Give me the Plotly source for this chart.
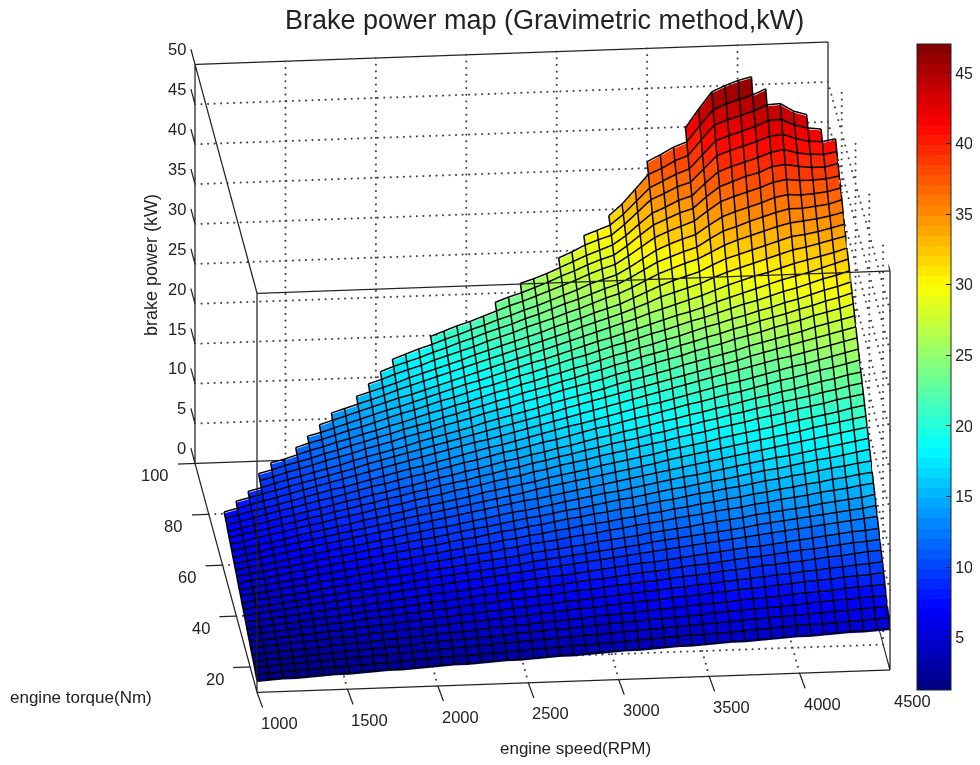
import plotly.graph_objects as go

speed_rpm = [1000, 1073, 1146, 1219, 1292, 1365, 1438, 1510, 1583, 1656, 1729, 1802, 1875, 1948, 2021, 2094, 2167,
             2240, 2313, 2385, 2458, 2531, 2604, 2677, 2750, 2823, 2896, 2969, 3042, 3115, 3188, 3260, 3333, 3406,
             3479, 3552, 3625, 3698, 3771, 3844, 3917, 3990, 4063, 4135, 4208, 4281, 4354, 4427, 4500]
torque_nm = [10.0, 11.8, 13.7, 15.5, 17.3, 19.2, 21.0, 22.9, 24.7, 26.5, 28.4, 30.2, 32.0, 33.9, 35.7, 37.6, 39.4, 41.2,
             43.1, 44.9, 46.7, 48.6, 50.4, 52.2, 54.1, 55.9, 57.8, 59.6, 61.4, 63.3, 65.1, 66.9, 68.8, 70.6, 72.4, 74.3,
             76.1, 78.0, 79.8, 81.6, 83.5, 85.3, 87.1, 89.0, 90.8, 92.6, 94.5, 96.3]
# index of the first speed column that has a value, one per torque row
first_col = [0] * 27 + [1, 2, 3, 3, 4, 6, 7, 8, 9, 11, 12, 13, 14, 17, 22, 24, 27, 29, 31, 34, 37]
power_rows = [
 [1.3,1.4,1.5,1.5,1.6,1.7,1.8,1.8,1.9,2.0,2.1,2.1,2.2,2.3,2.4,2.5,2.5,2.6,2.7,2.8,2.8,2.9,3.0,3.1,3.1,3.2,3.3,3.4,3.5,3.5,3.6,3.7,3.8,3.8,3.9,4.0,4.1,4.1,4.2,4.3,4.4,4.5,4.5,4.6,4.7,4.8,4.8,4.9,5.0],
 [1.5,1.6,1.7,1.8,1.9,2.0,2.1,2.1,2.2,2.3,2.4,2.5,2.6,2.7,2.8,2.9,2.9,3.0,3.1,3.2,3.3,3.4,3.5,3.6,3.7,3.7,3.8,3.9,4.0,4.1,4.2,4.3,4.4,4.5,4.5,4.6,4.7,4.8,4.9,5.0,5.1,5.2,5.3,5.3,5.4,5.5,5.6,5.7,5.8],
 [1.8,1.9,2.0,2.1,2.2,2.3,2.4,2.5,2.6,2.7,2.8,2.9,3.0,3.1,3.2,3.3,3.4,3.5,3.6,3.7,3.8,3.9,4.0,4.1,4.2,4.3,4.4,4.5,4.6,4.7,4.8,4.9,5.0,5.1,5.2,5.3,5.4,5.5,5.6,5.7,5.8,5.9,6.0,6.1,6.2,6.3,6.4,6.5,6.6],
 [2.0,2.1,2.2,2.3,2.4,2.5,2.7,2.8,2.9,3.0,3.1,3.2,3.3,3.5,3.6,3.7,3.8,3.9,4.0,4.1,4.3,4.4,4.5,4.6,4.7,4.8,5.0,5.1,5.2,5.3,5.4,5.5,5.6,5.7,5.8,6.0,6.1,6.2,6.3,6.4,6.5,6.6,6.8,6.9,7.0,7.1,7.2,7.3,7.4],
 [2.2,2.3,2.5,2.6,2.7,2.8,3.0,3.1,3.2,3.3,3.5,3.6,3.7,3.8,4.0,4.1,4.2,4.3,4.5,4.6,4.7,4.8,5.0,5.1,5.2,5.3,5.5,5.6,5.7,5.8,6.0,6.1,6.2,6.4,6.5,6.6,6.7,6.9,7.0,7.1,7.2,7.4,7.5,7.6,7.7,7.9,8.0,8.1,8.2],
 [2.4,2.6,2.7,2.9,3.0,3.1,3.3,3.4,3.5,3.7,3.8,4.0,4.1,4.2,4.4,4.5,4.7,4.8,4.9,5.1,5.2,5.3,5.5,5.6,5.8,5.9,6.0,6.2,6.3,6.5,6.6,6.7,6.9,7.0,7.1,7.3,7.4,7.6,7.7,7.8,8.0,8.1,8.3,8.4,8.5,8.7,8.8,8.9,9.1],
 [2.7,2.8,3.0,3.1,3.3,3.4,3.6,3.7,3.9,4.0,4.2,4.3,4.5,4.6,4.8,4.9,5.1,5.2,5.4,5.5,5.7,5.8,6.0,6.1,6.3,6.4,6.6,6.7,6.9,7.0,7.2,7.3,7.5,7.6,7.8,7.9,8.1,8.2,8.4,8.5,8.7,8.8,9.0,9.1,9.3,9.4,9.6,9.7,9.9],
 [2.9,3.1,3.2,3.4,3.6,3.7,3.9,4.0,4.2,4.4,4.5,4.7,4.9,5.0,5.2,5.3,5.5,5.7,5.8,6.0,6.2,6.3,6.5,6.6,6.8,7.0,7.1,7.3,7.5,7.6,7.8,7.9,8.1,8.3,8.4,8.6,8.8,8.9,9.1,9.3,9.4,9.6,9.7,9.9,10.1,10.2,10.4,10.6,10.7],
 [3.1,3.3,3.5,3.6,3.8,4.0,4.2,4.3,4.5,4.7,4.9,5.0,5.2,5.4,5.6,5.7,5.9,6.1,6.3,6.4,6.6,6.8,7.0,7.1,7.3,7.5,7.7,7.8,8.0,8.2,8.4,8.5,8.7,8.9,9.1,9.2,9.4,9.6,9.8,9.9,10.1,10.3,10.5,10.6,10.8,11.0,11.2,11.3,11.5],
 [3.4,3.5,3.7,3.9,4.1,4.3,4.5,4.7,4.8,5.0,5.2,5.4,5.6,5.8,6.0,6.2,6.3,6.5,6.7,6.9,7.1,7.3,7.5,7.7,7.8,8.0,8.2,8.4,8.6,8.8,9.0,9.1,9.3,9.5,9.7,9.9,10.1,10.3,10.5,10.6,10.8,11.0,11.2,11.4,11.6,11.8,12.0,12.1,12.3],
 [3.6,3.8,4.0,4.2,4.4,4.6,4.8,5.0,5.2,5.4,5.6,5.8,6.0,6.2,6.4,6.6,6.8,7.0,7.2,7.4,7.6,7.8,8.0,8.2,8.4,8.6,8.8,9.0,9.2,9.4,9.6,9.8,10.0,10.2,10.4,10.6,10.8,11.0,11.2,11.4,11.6,11.8,12.0,12.2,12.4,12.6,12.8,13.0,13.2],
 [3.8,4.0,4.2,4.4,4.6,4.9,5.1,5.3,5.5,5.7,5.9,6.1,6.3,6.6,6.8,7.0,7.2,7.4,7.6,7.8,8.0,8.2,8.5,8.7,8.9,9.1,9.3,9.5,9.7,9.9,10.1,10.4,10.6,10.8,11.0,11.2,11.4,11.6,11.8,12.1,12.3,12.5,12.7,12.9,13.1,13.3,13.5,13.7,14.0],
 [4.0,4.3,4.5,4.7,4.9,5.1,5.4,5.6,5.8,6.0,6.3,6.5,6.7,6.9,7.2,7.4,7.6,7.8,8.1,8.3,8.5,8.7,9.0,9.2,9.4,9.6,9.8,10.1,10.3,10.5,10.7,11.0,11.2,11.4,11.6,11.9,12.1,12.3,12.5,12.8,13.0,13.2,13.4,13.6,13.9,14.1,14.3,14.5,14.8],
 [4.3,4.5,4.7,5.0,5.2,5.4,5.7,5.9,6.1,6.4,6.6,6.9,7.1,7.3,7.6,7.8,8.0,8.3,8.5,8.7,9.0,9.2,9.5,9.7,9.9,10.2,10.4,10.6,10.9,11.1,11.4,11.6,11.8,12.1,12.3,12.5,12.8,13.0,13.2,13.5,13.7,14.0,14.2,14.4,14.7,14.9,15.1,15.4,15.6],
 [4.5,4.7,5.0,5.2,5.5,5.7,6.0,6.2,6.5,6.7,7.0,7.2,7.5,7.7,8.0,8.2,8.5,8.7,9.0,9.2,9.5,9.7,10.0,10.2,10.5,10.7,11.0,11.2,11.4,11.7,11.9,12.2,12.4,12.7,12.9,13.2,13.4,13.7,13.9,14.2,14.4,14.7,14.9,15.2,15.4,15.7,15.9,16.2,16.4],
 [4.7,5.0,5.2,5.5,5.8,6.0,6.3,6.6,6.8,7.1,7.3,7.6,7.9,8.1,8.4,8.6,8.9,9.2,9.4,9.7,10.0,10.2,10.5,10.7,11.0,11.3,11.5,11.8,12.0,12.3,12.5,12.8,13.1,13.3,13.6,13.9,14.1,14.4,14.6,14.9,15.2,15.4,15.7,15.9,16.2,16.5,16.7,17.0,17.2],
 [5.0,5.2,5.5,5.8,6.0,6.3,6.6,6.9,7.1,7.4,7.7,8.0,8.2,8.5,8.8,9.0,9.3,9.6,9.9,10.1,10.4,10.7,11.0,11.2,11.5,11.8,12.0,12.3,12.6,12.9,13.1,13.4,13.7,14.0,14.2,14.5,14.8,15.0,15.3,15.6,15.9,16.1,16.4,16.7,17.0,17.2,17.5,17.8,18.1],
 [5.2,5.5,5.7,6.0,6.3,6.6,6.9,7.2,7.5,7.7,8.0,8.3,8.6,8.9,9.2,9.5,9.7,10.0,10.3,10.6,10.9,11.2,11.4,11.7,12.0,12.3,12.6,12.9,13.2,13.4,13.7,14.0,14.3,14.6,14.9,15.1,15.4,15.7,16.0,16.3,16.6,16.9,17.1,17.4,17.7,18.0,18.3,18.6,18.9],
 [5.4,5.7,6.0,6.3,6.6,6.9,7.2,7.5,7.8,8.1,8.4,8.7,9.0,9.3,9.6,9.9,10.2,10.5,10.8,11.1,11.4,11.7,12.0,12.2,12.5,12.8,13.1,13.4,13.7,14.0,14.3,14.6,14.9,15.2,15.5,15.8,16.1,16.4,16.7,17.0,17.3,17.6,17.9,18.2,18.5,18.8,19.1,19.4,19.7],
 [5.6,5.9,6.2,6.6,6.9,7.2,7.5,7.8,8.1,8.4,8.7,9.0,9.3,9.7,10.0,10.3,10.6,10.9,11.2,11.5,11.8,12.1,12.4,12.8,13.1,13.4,13.7,14.0,14.3,14.6,14.9,15.2,15.5,15.9,16.2,16.5,16.8,17.1,17.4,17.7,18.0,18.3,18.6,18.9,19.3,19.6,19.9,20.2,20.5],
 [5.9,6.2,6.5,6.8,7.1,7.5,7.8,8.1,8.4,8.7,9.1,9.4,9.7,10.0,10.4,10.7,11.0,11.3,11.6,12.0,12.3,12.6,12.9,13.2,13.6,13.9,14.2,14.5,14.9,15.2,15.5,15.8,16.1,16.5,16.8,17.1,17.4,17.8,18.1,18.4,18.7,19.0,19.4,19.7,20.0,20.3,20.6,21.0,21.3],
 [6.1,6.4,6.8,7.1,7.4,7.8,8.1,8.4,8.8,9.1,9.4,9.8,10.1,10.4,10.8,11.1,11.4,11.8,12.1,12.4,12.8,13.1,13.4,13.8,14.1,14.5,14.8,15.1,15.5,15.8,16.1,16.5,16.8,17.1,17.5,17.8,18.1,18.5,18.8,19.1,19.5,19.8,20.1,20.5,20.8,21.1,21.5,21.8,22.1],
 [6.3,6.7,7.0,7.3,7.7,8.0,8.4,8.7,9.1,9.4,9.8,10.1,10.5,10.8,11.2,11.5,11.9,12.2,12.5,12.9,13.2,13.6,13.9,14.3,14.6,15.0,15.3,15.7,16.0,16.4,16.7,17.0,17.4,17.7,18.1,18.4,18.8,19.1,19.5,19.8,20.2,20.5,20.9,21.2,21.5,21.9,22.2,22.6,22.9],
 [6.5,6.9,7.2,7.6,8.0,8.3,8.7,9.0,9.4,9.8,10.1,10.5,10.8,11.2,11.5,11.9,12.3,12.6,13.0,13.3,13.7,14.1,14.4,14.8,15.1,15.5,15.8,16.2,16.6,16.9,17.3,17.6,18.0,18.4,18.7,19.1,19.4,19.8,20.1,20.5,20.9,21.2,21.6,21.9,22.3,22.7,23.0,23.4,23.7],
 [6.8,7.1,7.5,7.9,8.3,8.6,9.0,9.4,9.7,10.1,10.5,10.9,11.2,11.6,12.0,12.3,12.7,13.1,13.5,13.8,14.2,14.6,14.9,15.3,15.7,16.0,16.4,16.8,17.2,17.5,17.9,18.3,18.6,19.0,19.4,19.8,20.1,20.5,20.9,21.2,21.6,22.0,22.4,22.7,23.1,23.5,23.8,24.2,24.6],
 [7.0,7.4,7.8,8.1,8.5,8.9,9.3,9.7,10.1,10.4,10.8,11.2,11.6,12.0,12.4,12.7,13.1,13.5,13.9,14.3,14.7,15.0,15.4,15.8,16.2,16.6,17.0,17.3,17.7,18.1,18.5,18.9,19.3,19.6,20.0,20.4,20.8,21.2,21.6,21.9,22.3,22.7,23.1,23.5,23.8,24.2,24.6,25.0,25.4],
 [7.2,7.6,8.0,8.4,8.8,9.2,9.6,10.0,10.4,10.8,11.2,11.6,12.0,12.4,12.8,13.2,13.6,14.0,14.4,14.8,15.1,15.5,15.9,16.3,16.7,17.1,17.5,17.9,18.3,18.7,19.1,19.5,19.9,20.3,20.7,21.1,21.5,21.9,22.3,22.7,23.1,23.5,23.9,24.2,24.6,25.0,25.4,25.8,26.2],
 [7.9,8.3,8.7,9.1,9.5,9.9,10.3,10.7,11.1,11.5,12.0,12.4,12.8,13.2,13.6,14.0,14.4,14.8,15.2,15.6,16.0,16.4,16.8,17.2,17.6,18.1,18.5,18.9,19.3,19.7,20.1,20.5,20.9,21.3,21.7,22.1,22.5,22.9,23.3,23.8,24.2,24.6,25.0,25.4,25.8,26.2,26.6,27.0],
 [8.5,8.9,9.4,9.8,10.2,10.6,11.0,11.4,11.9,12.3,12.7,13.1,13.5,14.0,14.4,14.8,15.2,15.6,16.1,16.5,16.9,17.3,17.7,18.2,18.6,19.0,19.4,19.8,20.3,20.7,21.1,21.5,21.9,22.4,22.8,23.2,23.6,24.0,24.5,24.9,25.3,25.7,26.1,26.6,27.0,27.4,27.8],
 [9.2,9.6,10.1,10.5,10.9,11.4,11.8,12.2,12.7,13.1,13.5,14.0,14.4,14.8,15.3,15.7,16.1,16.6,17.0,17.4,17.9,18.3,18.7,19.2,19.6,20.0,20.4,20.9,21.3,21.7,22.2,22.6,23.0,23.5,23.9,24.3,24.8,25.2,25.6,26.1,26.5,26.9,27.4,27.8,28.2,28.7],
 [9.5,9.9,10.4,10.8,11.2,11.7,12.1,12.6,13.0,13.5,13.9,14.4,14.8,15.2,15.7,16.1,16.6,17.0,17.5,17.9,18.4,18.8,19.2,19.7,20.1,20.6,21.0,21.5,21.9,22.4,22.8,23.2,23.7,24.1,24.6,25.0,25.5,25.9,26.4,26.8,27.2,27.7,28.1,28.6,29.0,29.5],
 [10.2,10.6,11.1,11.6,12.0,12.5,12.9,13.4,13.8,14.3,14.7,15.2,15.7,16.1,16.6,17.0,17.5,18.0,18.4,18.9,19.3,19.8,20.2,20.7,21.1,21.6,22.1,22.5,23.0,23.4,23.9,24.3,24.8,25.3,25.7,26.2,26.6,27.1,27.5,28.0,28.4,28.9,29.4,29.8,30.3],
 [11.4,11.9,12.3,12.8,13.3,13.7,14.2,14.7,15.2,15.6,16.1,16.6,17.0,17.5,18.0,18.4,18.9,19.4,19.8,20.3,20.8,21.3,21.7,22.2,22.7,23.1,23.6,24.1,24.5,25.0,25.5,25.9,26.4,26.9,27.4,27.8,28.3,28.8,29.2,29.7,30.2,30.6,31.1],
 [12.2,12.6,13.1,13.6,14.1,14.6,15.1,15.5,16.0,16.5,17.0,17.5,18.0,18.4,18.9,19.4,19.9,20.4,20.8,21.3,21.8,22.3,22.8,23.2,23.7,24.2,24.7,25.2,25.7,26.1,26.6,27.2,27.7,28.2,28.7,29.2,29.7,30.1,30.5,31.0,31.5,32.0],
 [13.0,13.5,14.0,14.5,15.0,15.5,16.0,16.4,16.9,17.4,17.9,18.4,18.9,19.4,19.9,20.4,20.9,21.4,21.9,22.4,22.9,23.4,23.9,24.4,24.9,25.5,26.0,26.5,27.0,27.5,28.1,28.7,29.2,29.7,30.1,30.6,31.1,31.5,31.9,32.3,32.8],
 [13.8,14.3,14.8,15.3,15.8,16.4,16.9,17.4,17.9,18.4,18.9,19.4,19.9,20.4,20.9,21.4,21.9,22.4,22.9,23.5,24.0,24.5,25.0,25.6,26.2,26.9,27.4,27.9,28.4,29.1,29.7,30.2,30.7,31.2,31.7,32.2,32.5,32.9,33.3,33.7],
 [15.2,15.7,16.2,16.7,17.3,17.8,18.3,18.8,19.3,19.9,20.4,20.9,21.4,21.9,22.4,23.0,23.5,24.0,24.6,25.1,25.6,26.3,27.0,27.7,28.3,28.8,29.3,30.1,30.8,31.3,31.8,32.3,32.8,33.3,33.5,33.8,34.2,34.6],
 [16.1,16.6,17.2,17.7,18.2,18.8,19.3,19.8,20.3,20.9,21.4,21.9,22.5,23.0,23.5,24.1,24.6,25.2,25.8,26.3,27.0,27.8,28.6,29.2,29.8,30.3,31.1,31.9,32.5,33.0,33.5,34.0,34.4,34.6,34.8,35.1,35.5],
 [17.0,17.6,18.1,18.6,19.2,19.7,20.3,20.8,21.4,21.9,22.4,23.0,23.5,24.1,24.7,25.2,25.8,26.4,26.9,27.7,28.6,29.5,30.1,30.7,31.2,32.2,33.1,33.6,34.2,34.7,35.2,35.6,35.6,35.8,36.0,36.5],
 [17.9,18.5,19.1,19.6,20.2,20.7,21.3,21.8,22.4,22.9,23.5,24.0,24.6,25.2,25.8,26.5,27.0,27.5,28.4,29.4,30.4,31.1,31.7,32.2,33.3,34.3,34.9,35.4,35.9,36.5,36.8,36.7,36.8,37.0,37.4],
 [20.0,20.6,21.2,21.7,22.3,22.9,23.5,24.0,24.6,25.2,25.8,26.4,27.1,27.7,28.2,29.2,30.3,31.4,32.1,32.7,33.3,34.5,35.6,36.2,36.7,37.2,37.8,38.1,37.9,37.9,38.0,38.3],
 [23.4,24.0,24.5,25.1,25.7,26.4,27.0,27.7,28.3,28.8,29.9,31.2,32.4,33.1,33.8,34.3,35.7,36.9,37.5,38.1,38.5,39.2,39.4,39.1,38.9,38.9,39.3],
 [25.1,25.6,26.2,26.9,27.6,28.3,28.9,29.5,30.6,32.0,33.3,34.0,34.8,35.3,36.8,38.2,38.8,39.3,39.8,40.4,40.7,40.2,40.0,39.9,40.2],
 [27.5,28.2,29.0,29.6,30.1,31.4,32.9,34.4,35.1,35.9,36.4,38.0,39.6,40.2,40.7,41.2,41.8,42.0,41.4,41.0,40.9,41.2],
 [29.6,30.2,30.8,32.1,33.7,35.3,36.1,36.9,37.5,39.2,40.9,41.5,42.0,42.5,43.2,43.3,42.5,42.1,41.9],
 [31.4,32.8,34.6,36.4,37.1,38.0,38.6,40.5,42.3,42.9,43.4,43.9,44.6,44.7,43.7,43.2],
 [37.4,38.2,39.1,39.7,41.7,43.6,44.3,44.8,45.3,46.0],
 [40.9,43.2,45.3,46.0,46.6,47.0],
]
x_ticks = [1000, 1500, 2000, 2500, 3000, 3500, 4000, 4500]
y_ticks = [20, 40, 60, 80, 100]
z_ticks = list(range(0, 55, 5))
cbar_ticks = [5, 10, 15, 20, 25, 30, 35, 40, 45]
XMIN, XMAX, YMIN, YMAX, ZMIN, ZMAX = 1000, 4500, 10, 100, 0, 50
XPAD, YPAD = 94, 6
CMIN, CMAX = 1.3, 47.05
INK = "#222"
SCALE = 1.769
EYE = 4
LIFT = 0.18

nr, nc = len(torque_nm), len(speed_rpm)
power_kw = []
for r in range(nr):
    row = [None] * first_col[r] + list(power_rows[r])
    power_kw.append((row + [None] * nc)[:nc])


def jet(t):
    f = lambda a: max(0.0, min(1.0, a))
    return (f(1.5 - abs(4 * t - 3)), f(1.5 - abs(4 * t - 2)), f(1.5 - abs(4 * t - 1)))


def stepped_jet(n=64):
    out = []
    for i in range(n):
        r, g, b = jet((i + 0.5) / n)
        c = f"rgb({round(r*255)},{round(g*255)},{round(b*255)})"
        out += [[i / n, c], [(i + 1) / n, c]]
    return out


vx, vy, vz, fi, fj, fk, fc = [], [], [], [], [], [], []
h_edges, v_edges = set(), set()
for r in range(nr - 1):
    for c in range(nc - 1):
        q = [(r, c), (r, c + 1), (r + 1, c + 1), (r + 1, c)]
        if any(power_kw[a][b] is None for a, b in q):
            continue
        s = len(vx)
        for a, b in q:
            vx.append(speed_rpm[b]); vy.append(torque_nm[a]); vz.append(power_kw[a][b])
        fi += [s, s]; fj += [s + 1, s + 2]; fk += [s + 2, s + 3]
        fc += [sum(power_kw[a][b] for a, b in q) / 4] * 2
        h_edges |= {(r, c), (r + 1, c)}
        v_edges |= {(r, c), (r, c + 1)}

lx, ly, lz = [], [], []
for r, c in sorted(h_edges):
    lx += [speed_rpm[c], speed_rpm[c + 1], None]; ly += [torque_nm[r]] * 2 + [None]
    lz += [power_kw[r][c] + LIFT, power_kw[r][c + 1] + LIFT, None]
for r, c in sorted(v_edges):
    lx += [speed_rpm[c]] * 2 + [None]; ly += [torque_nm[r], torque_nm[r + 1], None]
    lz += [power_kw[r][c] + LIFT, power_kw[r + 1][c] + LIFT, None]

fig = go.Figure()
fig.add_trace(go.Mesh3d(x=vx, y=vy, z=vz, i=fi, j=fj, k=fk, intensity=fc, intensitymode="cell",
                        colorscale=stepped_jet(), cmin=CMIN, cmax=CMAX, flatshading=True,
                        lighting=dict(ambient=1, diffuse=0, specular=0, roughness=1, fresnel=0),
                        hoverinfo="skip",
                        colorbar=dict(x=909 / 980, xanchor="left", y=1 - 36 / 765, yanchor="top",
                                      lenmode="pixels", len=646, thicknessmode="pixels", thickness=34,
                                      tickvals=cbar_ticks, ticks="inside", ticklen=5, tickcolor=INK,
                                      tickfont=dict(family="Liberation Sans", size=16, color=INK),
                                      outlinecolor=INK, outlinewidth=1, xpad=0, ypad=0)))
fig.add_trace(go.Scatter3d(x=lx, y=ly, z=lz, mode="lines", line=dict(color="black", width=3),
                           hoverinfo="skip", showlegend=False))


def dotted(p, q, n):
    xs, ys, zs = [], [], []
    for i in range(n + 1):
        t = i / n
        xs.append(p[0] + (q[0] - p[0]) * t); ys.append(p[1] + (q[1] - p[1]) * t); zs.append(p[2] + (q[2] - p[2]) * t)
    return xs, ys, zs


segs = []
for t in x_ticks[1:-1]:
    segs += [((t, YMIN, ZMIN), (t, YMAX, ZMIN), 36), ((t, YMAX, ZMIN), (t, YMAX, ZMAX), 60)]
for t in y_ticks[:-1]:
    segs += [((XMIN, t, ZMIN), (XMAX, t, ZMIN), 97), ((XMAX, t, ZMIN), (XMAX, t, ZMAX), 60)]
for t in z_ticks[1:-1]:
    segs += [((XMIN, YMAX, t), (XMAX, YMAX, t), 97), ((XMAX, YMAX, t), (XMAX, YMIN, t), 36)]
gx, gy, gz = [], [], []
for p, q, n in segs:
    a, b, c = dotted(p, q, n)
    gx += a; gy += b; gz += c
fig.add_trace(go.Scatter3d(x=gx, y=gy, z=gz, mode="markers", marker=dict(color="#444", size=1.2, line=dict(width=0)),
                           hoverinfo="skip", showlegend=False))

bx, by, bz = [], [], []
for a, b in [((0,0,0),(1,0,0)),((1,0,0),(1,1,0)),((1,1,0),(0,1,0)),((0,1,0),(0,0,0)),
             ((0,0,1),(1,0,1)),((1,0,1),(1,1,1)),((1,1,1),(0,1,1)),((0,1,1),(0,0,1)),
             ((0,0,0),(0,0,1)),((1,0,0),(1,0,1)),((1,1,0),(1,1,1)),((0,1,0),(0,1,1))]:
    for p in (a, b):
        bx.append(XMAX if p[0] else XMIN); by.append(YMAX if p[1] else YMIN); bz.append(ZMAX if p[2] else ZMIN)
    bx.append(None); by.append(None); bz.append(None)
for t in x_ticks:
    bx += [t, t + 8, None]; by += [YMIN, YMIN - YPAD, None]; bz += [ZMIN, ZMIN, None]
for t in y_ticks:
    bx += [XMIN, XMIN - XPAD, None]; by += [t, t, None]; bz += [ZMIN, ZMIN, None]
for t in z_ticks:
    bx += [XMIN, XMIN, None]; by += [YMAX, YMAX + YPAD, None]; bz += [t, t, None]
fig.add_trace(go.Scatter3d(x=bx, y=by, z=bz, mode="lines", line=dict(color="#222", width=2.5),
                           hoverinfo="skip", showlegend=False))

tickfont = dict(family="Liberation Sans", size=16.5, color=INK)
scene_notes = []
for t in x_ticks:
    scene_notes.append(dict(x=t, y=YMIN, z=ZMIN, text=str(t), showarrow=False, xshift=23, yshift=-31, font=tickfont))
for t in y_ticks:
    scene_notes.append(dict(x=XMIN, y=t, z=ZMIN, text=str(t), showarrow=False, xanchor="right", xshift=-24, yshift=-12, font=tickfont))
for t in z_ticks:
    scene_notes.append(dict(x=XMIN, y=YMAX, z=t, text=str(t), showarrow=False, xanchor="right", xshift=-7, yshift=15, font=tickfont))

axis = dict(showgrid=False, zeroline=False, showbackground=False, showspikes=False, showline=False,
            ticks="", showticklabels=False, title=dict(text=""))
label = dict(family="Liberation Sans", size=17, color=INK)
note = dict(xref="paper", yref="paper", showarrow=False, xanchor="center", yanchor="middle")
fig.update_layout(
    width=980, height=765, margin=dict(l=0, r=0, t=0, b=0), paper_bgcolor="white", showlegend=False,
    scene=dict(
        domain=dict(x=[89.5 / 980, 961.5 / 980], y=[1 - 718.6 / 765, 1]),
        aspectmode="manual",
        aspectratio=dict(x=SCALE * (XMAX - XMIN + XPAD) / (XMAX - XMIN),
                         y=SCALE * (YMAX - YMIN + 2 * YPAD) / (YMAX - YMIN), z=SCALE * 0.673),
        camera=dict(projection=dict(type="orthographic"), up=dict(x=0, y=0, z=1),
                    center=dict(x=0, y=0, z=0),
                    eye=dict(x=-0.0909 * EYE, y=-0.9277 * EYE, z=0.3617 * EYE)),
        xaxis=dict(axis, range=[XMIN - XPAD, XMAX]),
        yaxis=dict(axis, range=[YMIN - YPAD, YMAX + YPAD]),
        zaxis=dict(axis, range=[ZMIN, ZMAX]),
        annotations=scene_notes,
    ),
    annotations=[
        dict(note, text="Brake power map (Gravimetric method,kW)", x=536 / 980, y=1 - 12 / 765,
             font=dict(family="Liberation Sans", size=27, color=INK)),
        dict(note, text="engine speed(RPM)", x=567 / 980, y=1 - 740 / 765, font=label),
        dict(note, text="engine torque(Nm)", x=73 / 980, y=1 - 689 / 765, font=label),
        dict(note, text="brake power (kW)", x=143 / 980, y=1 - 257 / 765, textangle=-90,
             font=dict(family="Liberation Sans", size=18, color=INK)),
    ],
)
fig.write_html("out.html")
